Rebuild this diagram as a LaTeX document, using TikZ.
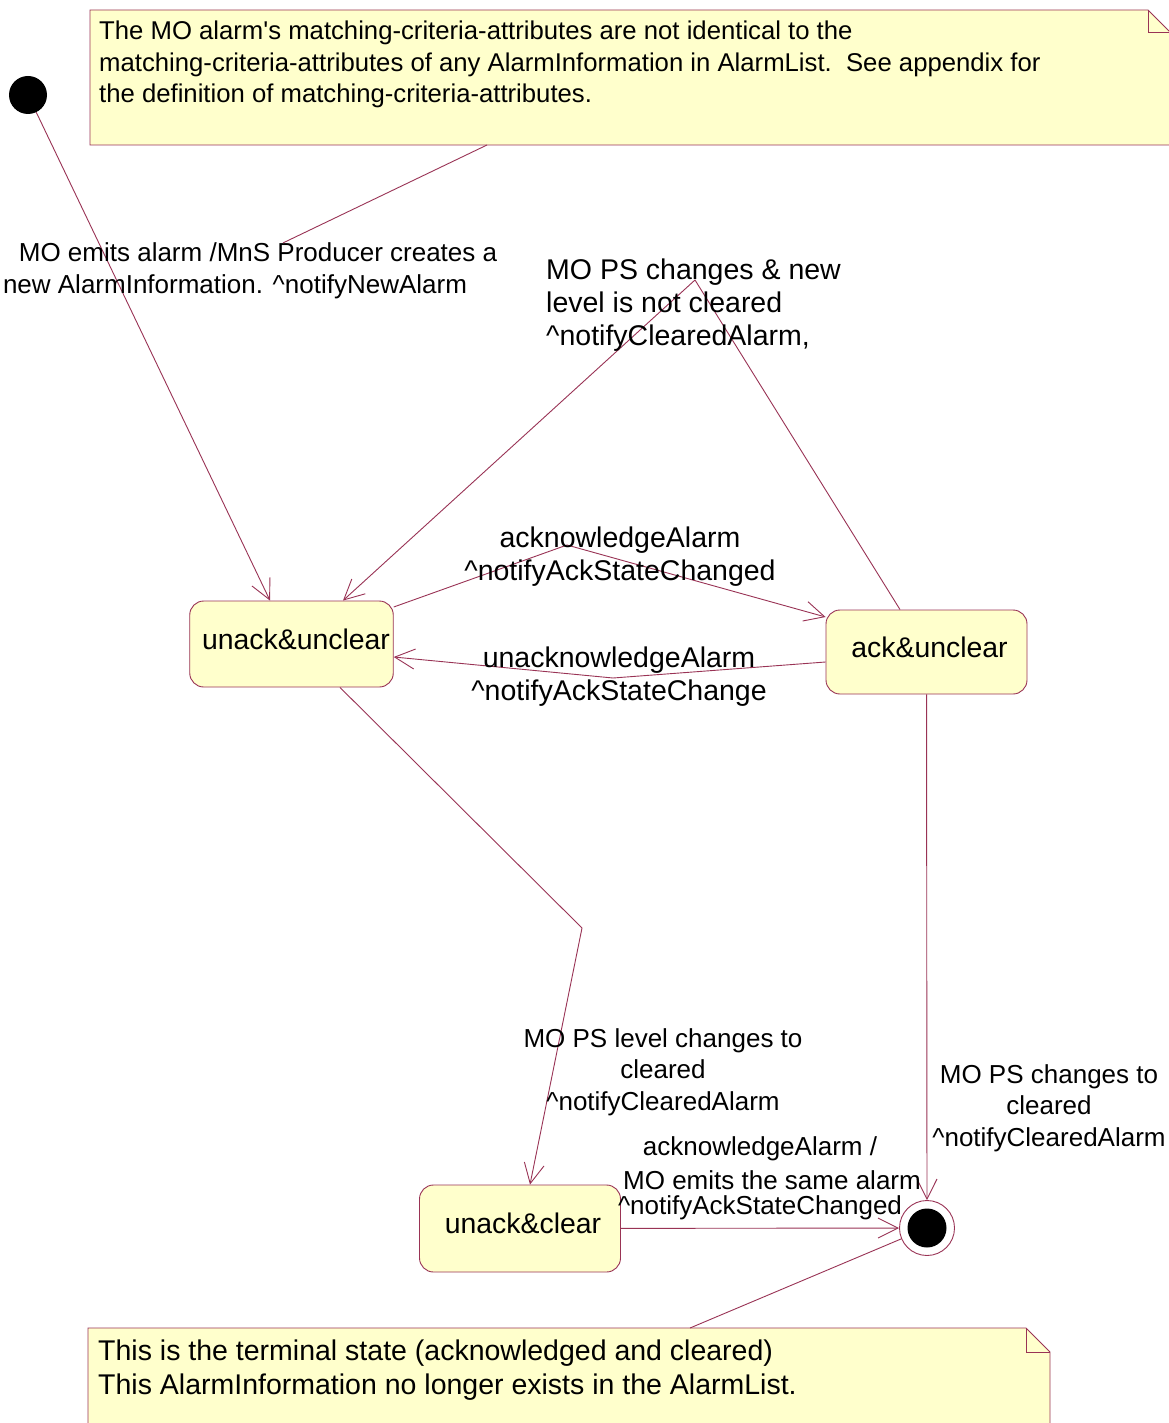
\documentclass[tikz,border=0pt]{standalone}
\usepackage{fontspec}
\setmainfont{Liberation Sans}
\usepackage{xcolor}
\usepackage{tikz}
\usetikzlibrary{arrows.meta, positioning, calc}
\definecolor{umlred}{HTML}{993355}
\definecolor{noteyellow}{HTML}{FFFFCC}
\definecolor{stateyellow}{HTML}{FFFFCC}

\tikzset{
  statebox/.style={draw=umlred, fill=stateyellow, rounded corners=14pt, line width=0.9pt,
    minimum width=201pt, minimum height=86pt, text depth=10pt, font=\fontsize{28.4}{32}\selectfont},
  trans/.style={umlred, line width=0.9pt, -{Straight Barb[length=20pt, width=20pt, line width=0.9pt]}},
  notebox/.style={draw=umlred, fill=noteyellow, line width=0.9pt},
  lbl/.style={align=center, inner sep=0pt, font=\fontsize{26}{31.5}\selectfont},
  biglbl/.style={lbl, font=\fontsize{28.5}{33}\selectfont},
  notetext/.style={align=left, inner sep=0pt, anchor=west}
}

\begin{document}
\begin{tikzpicture}[x=1pt, y=-1pt]
  \useasboundingbox (0,0) rectangle (1168,1423);
  \fill[white] (0,0) rectangle (1168,1423);

  % Notes
  \draw[notebox] (90,10) -- (1148,10) -- (1170,32) -- (1170,145) -- (90,145) -- cycle;
  \draw[umlred, line width=0.9pt] (1148,10) -- (1148,32) -- (1170,32);
  \node[notetext, font=\fontsize{25.7}{31.5}\selectfont] (topnote) at (99,64.5) {The MO alarm\textquotesingle s matching-criteria-attributes are not identical to the\\matching-criteria-attributes of any AlarmInformation in AlarmList.\ \ See appendix for\\the definition of matching-criteria-attributes.};
  \coordinate (topanchor) at (487,145);

  \draw[notebox] (88,1328) -- (1026,1328) -- (1050,1352) -- (1050,1430) -- (88,1430) -- cycle;
  \draw[umlred, line width=0.9pt] (1026,1328) -- (1026,1352) -- (1050,1352);
  \node[notetext, font=\fontsize{28.5}{34}\selectfont] (botnote) at (98,1370) {This is the terminal state (acknowledged and cleared)\\This AlarmInformation no longer exists in the AlarmList.};
  \coordinate (botanchor) at (690,1328);

  % Pseudo states
  \node[circle, fill=black, minimum size=38pt, inner sep=0pt] (init) at (28,95) {};
  \node[circle, fill=white, draw=umlred, line width=0.9pt, minimum size=55pt, inner sep=0pt] (fin) at (927,1228) {};
  \fill[black] (fin.center) circle (19.5pt);

  % States
  \node[statebox] (uu) at (291.5,644) {\hspace*{9pt}unack\&unclear};
  \node[statebox, minimum height=84pt] (au) at (926.5,652) {\hspace*{6pt}ack\&unclear};
  \node[statebox, minimum height=87pt] (uc) at (520,1228.5) {\hspace*{6pt}unack\&clear};

  % Bend points
  \coordinate (b1) at (567,545);
  \coordinate (b2) at (613,678);
  \coordinate (b3) at (695,280);
  \coordinate (b4) at (582,928);

  % Transitions
  \draw[trans] (init) -- ([xshift=-21.5pt]uu.north);
  \draw[trans] ([yshift=37pt]uu.east) -- (b1) -- ([yshift=35pt]au.west);
  \draw[trans] ([yshift=-10pt]au.west) -- (b2) -- ([yshift=-13pt]uu.east);
  \draw[trans] ([xshift=-26.5pt]au.north) -- (b3) -- ([xshift=51.5pt]uu.north);
  \draw[trans] ([xshift=48.5pt]uu.south) -- (b4) -- ([xshift=10pt]uc.north);
  \draw[trans] (au) -- (fin);
  \draw[trans] (uc) -- (fin);

  % Labels
  \node[lbl] (lblnew) at (258,271) {MO emits alarm /MnS Producer creates a\\new AlarmInformation. \^{}notifyNewAlarm\hspace*{46pt}};
  \node[biglbl, align=left, anchor=west] (lblnotclr) at (546,305) {MO PS changes \& new\\level is not cleared\\\^{}notifyClearedAlarm,};
  \node[biglbl] (lblack) at (620,556.5) {acknowledgeAlarm\\\^{}notifyAckStateChanged};
  \node[biglbl] (lblunack) at (619,676.5) {unacknowledgeAlarm\\\^{}notifyAckStateChange};
  \node[lbl] (lbllvl) at (663,1072) {MO PS level changes to\\cleared\\\^{}notifyClearedAlarm};
  \node[lbl] (lblps) at (1049,1108) {MO PS changes to\\cleared\\\^{}notifyClearedAlarm};
  \node[lbl] (lblsame) at (760,1178) {acknowledgeAlarm /\\[2.5pt]\hspace*{24pt}MO emits the same alarm\\[-6.5pt]\^{}notifyAckStateChanged};

  % Note anchors
  \draw[umlred, line width=0.9pt] (topanchor) -- ([xshift=25pt]lblnew.north);
  \draw[umlred, line width=0.9pt] (fin) -- (botanchor);
\end{tikzpicture}
\end{document}
